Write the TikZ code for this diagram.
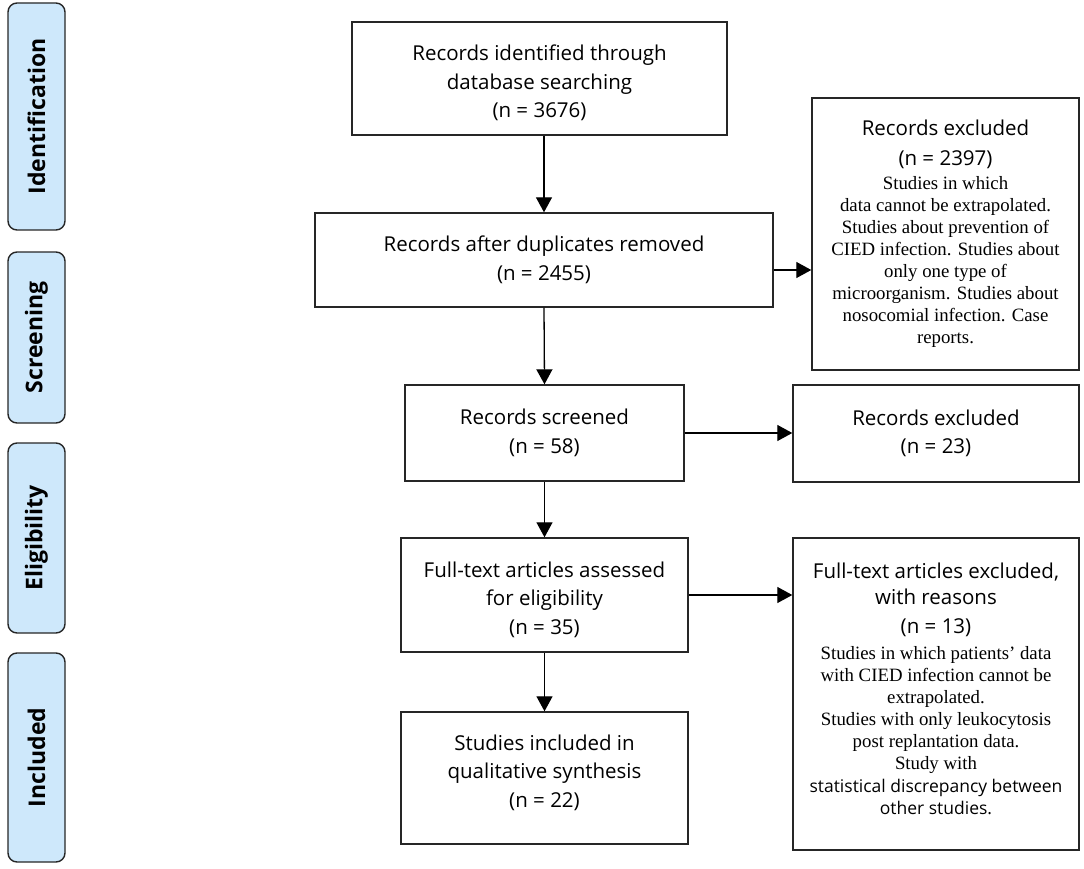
\documentclass[tikz,border=0pt]{standalone}
\usepackage{fontspec}
\setmainfont{Open Sans}
\newfontfamily\osans{Open Sans}
\newfontfamily\lserif{Liberation Serif}
\usetikzlibrary{arrows.meta}
\definecolor{phasefill}{RGB}{206,232,251}
\newcommand{\sanstxt}{\osans\fontsize{20.5}{22}\selectfont}
\newcommand{\sanssmall}{\osans\fontsize{17.5}{22}\selectfont}
\newcommand{\topstrut}{\rule{0pt}{25pt}}
\begin{document}
\begin{tikzpicture}[x=1pt,y=-1pt,
  box/.style={draw=black!85, line width=1.4pt, fill=white, align=center, inner sep=0pt,
    font=\osans\fontsize{20.5}{28.5}\selectfont},
  exbox/.style={draw=black!85, line width=1.4pt, fill=white, align=center, inner sep=0pt,
    font=\lserif\fontsize{18.8}{22}\selectfont},
  phase/.style={draw=black!85, line width=1.4pt, fill=phasefill, rounded corners=9pt, rotate=90,
    inner sep=0pt, minimum height=57pt, font=\osans\bfseries\fontsize{23}{26}\selectfont},
  arr/.style={line width=1.3pt, -{Triangle[length=15pt,width=16pt]}}]
\useasboundingbox (0,0) rectangle (1084,869);
% phases
\node[phase, minimum width=227pt] (pid) at (36.5,116.5) {Identification};
\node[phase, minimum width=171pt] (pscr) at (36.5,337.5) {Screening};
\node[phase, minimum width=190pt] (pel) at (36.5,538) {Eligibility};
\node[phase, minimum width=209pt] (pinc) at (36.5,757.5) {Included};
% main column
\node[box, minimum width=375pt, minimum height=113pt] (b1) at (539.5,78.5)
  {\topstrut Records identified through\\database searching\\(n = 3676)};
\node[box, minimum width=458pt, minimum height=94pt] (b2) at (544,260)
  {Records after duplicates removed\\(n = 2455)};
\node[box, minimum width=279pt, minimum height=96pt] (b3) at (544.5,433)
  {Records screened\\(n = 58)};
\node[box, minimum width=287pt, minimum height=114pt] (b4) at (544.5,595)
  {\topstrut Full-text articles assessed\\for eligibility\\(n = 35)};
\node[box, minimum width=287pt, minimum height=132pt] (b5) at (544.5,778)
  {Studies included in\\qualitative synthesis\\(n = 22)\\[-14pt]\mbox{}};
% exclusion column
\node[exbox, minimum width=267pt, minimum height=272pt] (e1) at (945.5,234)
  {{\sanstxt Records excluded}\\[8pt]
   {\sanstxt (n = 2397)}\\[2pt]
   Studies in which\\
   data cannot be extrapolated.\\
   Studies about prevention of\\
   CIED infection. Studies about\\
   only one type of\\
   microorganism. Studies about\\
   nosocomial infection. Case\\
   reports.};
\node[box, minimum width=286pt, minimum height=97pt] (e2) at (936,433.5)
  {Records excluded\\(n = 23)};
\node[exbox, minimum width=286pt, minimum height=312pt] (e3) at (936,694)
  {{\sanstxt Full-text articles excluded,}\\[4pt]
   {\sanstxt with reasons}\\[7pt]
   {\sanstxt (n = 13)}\\[4pt]
   Studies in which patients’ data\\
   with CIED infection cannot be\\
   extrapolated.\\
   Studies with only leukocytosis\\
   post replantation data.\\
   Study with\\[1pt]
   {\sanssmall statistical discrepancy between}\\
   {\sanssmall other studies.}\\[-12pt]\mbox{}};
% connectors
\draw[arr] (b1.south -| b2.north) -- (b2.north);
\draw[arr] (b2.south) -- (b3.north);
\draw[arr] (b3.south) -- (b4.north);
\draw[arr] (b4.south) -- (b5.north);
\draw[arr] ([yshift=-10pt]b2.east) -- ([yshift=-10pt]b2.east -| e1.west);
\draw[arr] (b3.east) -- (b3.east -| e2.west);
\draw[arr] (b4.east) -- (b4.east -| e3.west);
\end{tikzpicture}
\end{document}
